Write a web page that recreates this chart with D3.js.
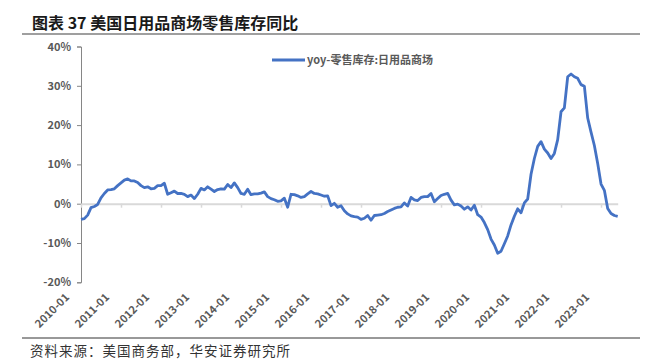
<html>
<head>
  <meta charset="UTF-8">
  <title>美国日用品商场零售库存同比</title>
  <script src="https://d3js.org/d3.v7.min.js"></script>
</head>
<style>
body { margin: 0; background: #fff; }
text { font-family: "Noto Sans CJK SC", "Noto Sans", sans-serif; }
.tick-label { fill: #595959; font-size: 11px; font-weight: 600; }
</style>
<body>
  <script>

var width = 660,
    height = 361;

// monthly yoy values, 2010-01 .. 2023-06 (%)
var values2010 = [-4.0, -3.8, -2.9, -1.0, -0.7, -0.2, 1.5, 2.6, 3.5, 3.6, 3.8, 4.6];
var values2011 = [5.3, 6.0, 6.3, 5.8, 5.8, 5.4, 4.6, 4.1, 4.3, 3.8, 3.9, 4.6];
var values2012 = [4.6, 5.2, 2.4, 2.8, 3.2, 2.6, 2.6, 2.4, 1.8, 2.2, 1.3, 2.4];
var values2013 = [3.9, 3.5, 4.3, 3.7, 3.1, 3.6, 3.8, 3.7, 4.9, 4.1, 5.3, 4.1];
var values2014 = [2.6, 2.4, 3.7, 2.3, 2.5, 2.5, 2.7, 3.0, 1.8, 1.3, 1.0, 0.6];
var values2015 = [0.7, 1.4, -0.9, 2.4, 2.3, 2.0, 1.6, 1.8, 2.5, 3.1, 2.6, 2.5];
var values2016 = [2.2, 1.9, 2.0, -0.5, 0.1, -0.9, -0.5, -1.8, -2.6, -3.1, -3.3, -3.4];
var values2017 = [-4.0, -3.7, -3.0, -4.2, -3.0, -2.9, -2.8, -2.5, -2.0, -1.6, -1.2, -0.9];
var values2018 = [-0.8, 0.2, -0.6, 1.6, 1.0, 0.8, 1.6, 1.8, 1.8, 2.6, 0.5, 1.3];
var values2019 = [2.1, 2.4, 2.6, 0.9, -0.3, -0.1, -0.6, -1.4, -0.8, -1.6, -0.4, -2.8];
var values2020 = [-3.4, -4.8, -6.6, -9.0, -10.5, -12.6, -12.1, -10.2, -8.2, -5.4, -3.2, -1.3];
var values2021 = [-2.3, 0.2, 1.2, 7.5, 11.5, 14.6, 15.8, 13.9, 12.9, 11.5, 12.8, 16.3];
var values2022 = [23.4, 24.4, 32.3, 33.0, 32.3, 31.9, 30.3, 29.9, 21.8, 18.2, 14.8, 10.2];
var values2023 = [5.0, 3.4, -1.2, -2.5, -3.0, -3.2];

var values = [].concat(values2010, values2011, values2012, values2013, values2014,
  values2015, values2016, values2017, values2018, values2019, values2020,
  values2021, values2022, values2023);

var xLabels = ['2010-01', '2011-01', '2012-01', '2013-01', '2014-01', '2015-01', '2016-01',
  '2017-01', '2018-01', '2019-01', '2020-01', '2021-01', '2022-01', '2023-01'];
var yTicks = [-20, -10, 0, 10, 20, 30, 40];

var seriesName = 'yoy-零售库存:日用品商场';
var title = '图表 37 美国日用品商场零售库存同比';
var source = '资料来源：美国商务部，华安证券研究所';

var svg = d3.select('body')
  .append('svg')
  .attr('width', width)
  .attr('height', height);

// title + rules
svg.append('text')
  .attr('x', 32)
  .attr('y', 29)
  .attr('font-size', 16)
  .attr('font-weight', 'bold')
  .attr('fill', '#1a1a1a')
  .text(title);

svg.append('line')
  .attr('x1', 22).attr('x2', 640)
  .attr('y1', 34).attr('y2', 34)
  .attr('stroke', '#7f7f7f')
  .attr('stroke-width', 1.5);

svg.append('line')
  .attr('x1', 22).attr('x2', 640)
  .attr('y1', 338).attr('y2', 338)
  .attr('stroke', '#333')
  .attr('stroke-width', 1);

svg.append('text')
  .attr('x', 30)
  .attr('y', 356)
  .attr('font-size', 13.5)
  .attr('letter-spacing', 1)
  .attr('fill', '#333')
  .text(source);

var x = d3.scaleLinear()
  .domain([0, values.length - 1])
  .range([81, 617.7]);

var y = d3.scaleLinear()
  .domain([-20, 40])
  .range([282.3, 46.5]);

// y axis
var yAxis = svg.append('g')
  .attr('transform', 'translate(81,0)')
  .call(d3.axisLeft(y).tickValues(yTicks).tickSize(4).tickPadding(6)
    .tickFormat(function(d){ return d + '%'; }));
yAxis.select('.domain').attr('stroke', '#868686');
yAxis.selectAll('.tick line').attr('stroke', '#868686');
yAxis.selectAll('.tick text').attr('class', 'tick-label').attr('font-family', null);

// zero line with year ticks
var xAxis = svg.append('g')
  .attr('transform', 'translate(0,' + y(0) + ')')
  .call(d3.axisBottom(x).tickValues(d3.range(0, values.length, 12))
    .tickSize(4).tickSizeOuter(0).tickFormat(''));
xAxis.select('.domain').attr('stroke', '#d9d9d9').attr('stroke-width', 2);
xAxis.selectAll('.tick line').attr('stroke', '#d9d9d9').attr('stroke-width', 1.5);

// year labels at the bottom
svg.append('g')
  .selectAll('text')
  .data(xLabels)
  .enter()
  .append('text')
  .attr('class', 'tick-label')
  .attr('text-anchor', 'end')
  .attr('transform', function(d, i){
    return 'translate(' + (x(i * 12) - 11) + ',' + 298 + ') rotate(-45)';
  })
  .text(function(d){ return d; });

// series line
var line = d3.line()
  .x(function(d, i){ return x(i); })
  .y(function(d){ return y(d); });

svg.append('path')
  .datum(values)
  .attr('fill', 'none')
  .attr('stroke', '#4472c4')
  .attr('stroke-width', 2.8)
  .attr('stroke-linejoin', 'round')
  .attr('d', line);

// legend
var legend = svg.append('g');
legend.append('line')
  .attr('x1', 272).attr('x2', 305)
  .attr('y1', 60).attr('y2', 60)
  .attr('stroke', '#4472c4')
  .attr('stroke-width', 2.8);
legend.append('text')
  .attr('class', 'tick-label')
  .attr('x', 307)
  .attr('y', 64)
  .text(seriesName);

  </script>
</body>
</html>
